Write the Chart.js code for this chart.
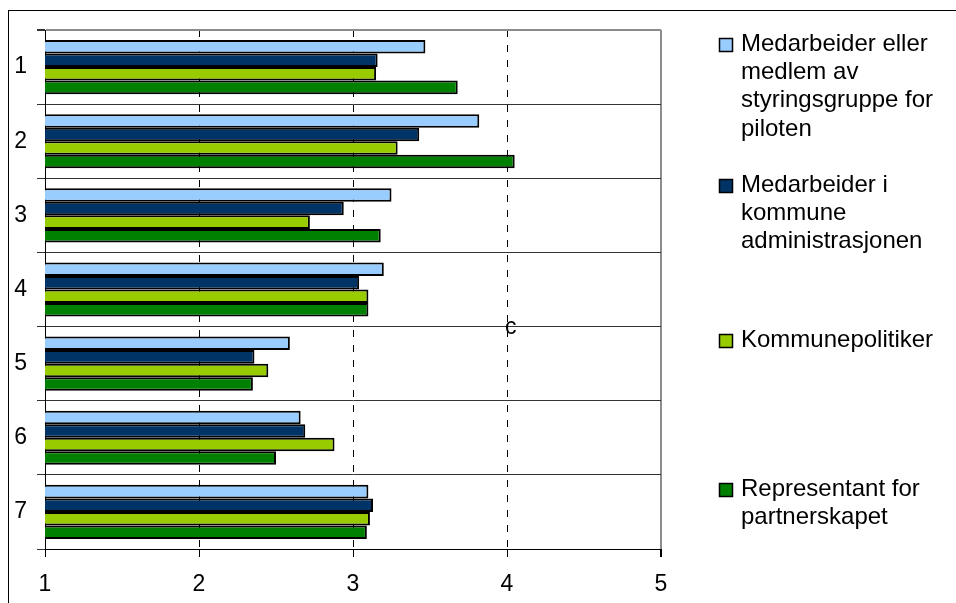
<!DOCTYPE html>
<html>
<head>
<meta charset="utf-8">
<script src="https://cdn.jsdelivr.net/npm/chart.js@4/dist/chart.umd.min.js"></script>
<style>
  html, body { margin: 0; padding: 0; background: #fff; }
  #wrap { width: 956px; height: 603px; position: relative; }
</style>
</head>
<body>
<div id="wrap"><canvas id="chart"></canvas></div>
<script>
const categories = ['1', '2', '3', '4', '5', '6', '7'];

const styringsgruppe = [3.47, 3.82, 3.25, 3.20, 2.59, 2.66, 3.10];
const administrasjon = [3.16, 3.43, 2.94, 3.04, 2.36, 2.69, 3.13];
const politiker      = [3.15, 3.29, 2.72, 3.10, 2.45, 2.88, 3.11];
const partnerskap    = [3.68, 4.05, 3.18, 3.10, 2.35, 2.50, 3.09];

const seriesLines = [
    ['Medarbeider eller', 'medlem av', 'styringsgruppe for', 'piloten'],
    ['Medarbeider i', 'kommune', 'administrasjonen'],
    ['Kommunepolitiker'],
    ['Representant for', 'partnerskapet']
];
const seriesColors = ['#99ccff', '#003366', '#99cc00', '#008000'];
const xTicks = [1, 2, 3, 4, 5];

const FONT = '"Liberation Sans", Arial, sans-serif';

/* frame + white background */
const framePlugin = {
    id: 'frame',
    beforeDraw(chart) {
        const ctx = chart.ctx;
        ctx.save();
        ctx.fillStyle = '#fff';
        ctx.fillRect(0, 0, chart.width, chart.height);
        ctx.strokeStyle = '#000';
        ctx.lineWidth = 1;
        ctx.strokeRect(8.5, 10.5, 1200, 900);
        ctx.restore();
    }
};

/* stray "c" label next to the 4 line, and the legend on the right */
const extrasPlugin = {
    id: 'extras',
    afterDraw(chart) {
        const ctx = chart.ctx;
        const xs = chart.scales.x, ys = chart.scales.y;
        ctx.save();
        ctx.fillStyle = '#000';
        ctx.font = '23px ' + FONT;
        ctx.textAlign = 'left';
        ctx.textBaseline = 'alphabetic';
        ctx.fillText('c', xs.getPixelForValue(4) - 2, ys.getPixelForValue(3.5) + 7);

        const firstLineY = [44, 185, 340, 489];
        ctx.font = '24px ' + FONT;
        ctx.textBaseline = 'middle';
        chart.data.datasets.forEach(function (ds, i) {
            const y0 = firstLineY[i];
            ctx.fillStyle = ds.backgroundColor;
            ctx.fillRect(719, y0 - 6, 14, 14);
            ctx.strokeStyle = '#000';
            ctx.lineWidth = 1.5;
            ctx.strokeRect(719.5, y0 - 5.5, 13, 13);
            ctx.fillStyle = '#000';
            seriesLines[i].forEach(function (line, k) {
                ctx.fillText(line, 741, y0 + k * 28.3);
            });
        });
        ctx.restore();
    }
};

const datasets = [styringsgruppe, administrasjon, politiker, partnerskap].map(function (vals, i) {
    return {
        label: seriesLines[i].join(' '),
        data: vals,
        backgroundColor: seriesColors[i],
        borderColor: '#000',
        borderWidth: 2,
        borderSkipped: false,
        barPercentage: 1.0,
        categoryPercentage: 0.73
    };
});

new Chart(document.getElementById('chart'), {
    type: 'bar',
    data: { labels: categories, datasets: datasets },
    options: {
        indexAxis: 'y',
        responsive: true,
        maintainAspectRatio: false,
        animation: false,
        layout: { padding: { top: 30, right: 295, bottom: 0, left: 0 } },
        plugins: {
            legend: { display: false },
            tooltip: { enabled: false }
        },
        scales: {
            x: {
                min: 1,
                max: 5,
                afterBuildTicks: function (scale) {
                    scale.ticks = xTicks.map(v => ({ value: v }));
                },
                afterFit: function (scale) { scale.height = 54; },
                ticks: {
                    color: '#000',
                    padding: 14,
                    font: { family: FONT, size: 23 },
                    maxRotation: 0
                },
                grid: {
                    color: function (c) {
                        return c.tick && c.tick.value === 5 ? '#8c8c8c' : '#000';
                    },
                    lineWidth: function (c) {
                        return c.tick && c.tick.value === 5 ? 2 : 1;
                    },
                    tickColor: '#000',
                    tickLength: 8,
                    tickBorderDash: []
                },
                border: {
                    color: '#000',
                    width: 1,
                    dash: function (c) {
                        return c.tick && c.tick.value > 1 && c.tick.value < 5 ? [7, 8] : [];
                    }
                }
            },
            y: {
                offset: true,
                afterFit: function (scale) { scale.width = 45; },
                ticks: {
                    color: '#000',
                    padding: 10,
                    font: { family: FONT, size: 23 }
                },
                grid: {
                    offset: true,
                    color: function (c) {
                        return c.index === 0 ? '#8c8c8c' : '#333';
                    },
                    lineWidth: function (c) {
                        return c.index === 0 ? 2 : 1;
                    },
                    tickColor: '#333',
                    tickLength: 8
                },
                border: { color: '#000', width: 1 }
            }
        }
    },
    plugins: [framePlugin, extrasPlugin]
});
</script>
</body>
</html>
